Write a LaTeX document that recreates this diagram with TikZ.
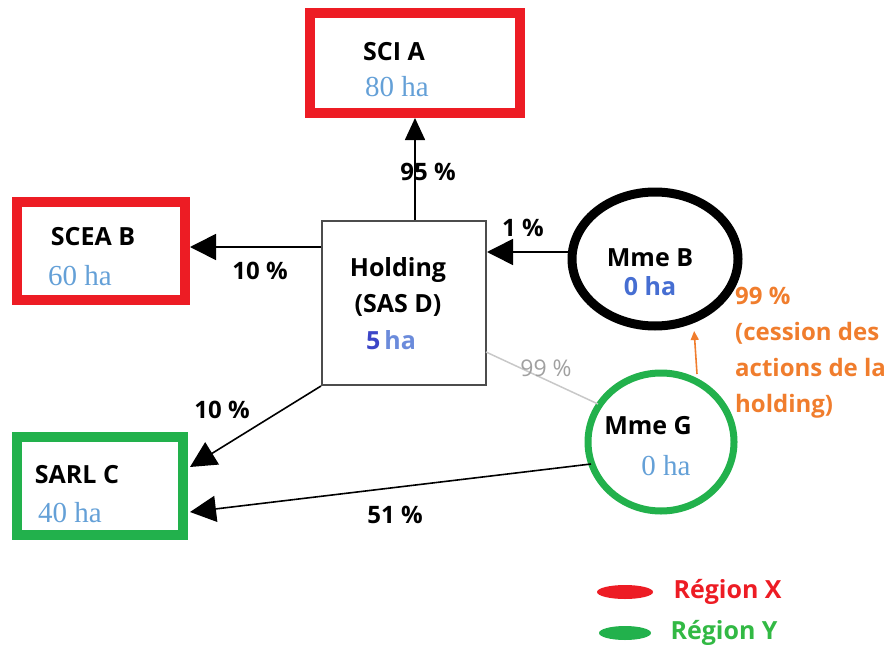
\documentclass[tikz,border=0pt]{standalone}
\usepackage{fontspec}
\setmainfont{Open Sans}
\newfontfamily\serifha{Liberation Serif}
\usetikzlibrary{arrows.meta,shapes.geometric}
\definecolor{rred}{RGB}{237,28,36}
\definecolor{ggreen}{RGB}{34,177,76}
\definecolor{lblue}{RGB}{100,160,215}
\definecolor{dblue}{RGB}{60,70,200}
\definecolor{mblue}{RGB}{70,110,210}
\definecolor{oorange}{RGB}{240,125,45}
\definecolor{ggray}{RGB}{200,200,200}
\tikzset{
  ttl/.style={font=\bfseries\fontsize{25}{30}\selectfont},
  pct/.style={font=\bfseries\fontsize{24}{29}\selectfont},
  haser/.style={font=\serifha\fontsize{29}{32}\selectfont, text=lblue},
  redbox/.style={draw=rred, line width=10pt},
  greenbox/.style={draw=ggreen, line width=10pt},
  conn/.style={line width=1.6pt, -{Triangle[length=26pt,width=26pt]}},
}
\begin{document}
\begin{tikzpicture}[x=1pt,y=-1pt]
\useasboundingbox (0,0) rectangle (893,650);
% boxes
\node[redbox, minimum width=210pt, minimum height=100pt] (A) at (415,63) {};
\node[ttl] at (394,52) {SCI A};
\node[haser] at (397,87) {80 ha};
\node[redbox, minimum width=168pt, minimum height=98pt] (B) at (101,251) {};
\node[ttl] at (93,237) {SCEA B};
\node[haser] at (80,276) {60 ha};
\node[greenbox, minimum width=166pt, minimum height=98pt] (C) at (100,486) {};
\node[ttl] at (77,475) {SARL C};
\node[haser] at (70,513) {40 ha};
\node[draw=black!70, line width=2pt, minimum width=164pt, minimum height=164pt] (D) at (404,303) {};
\node[ttl] at (398,270) {Holding};
\node[ttl] at (398,305) {(SAS D)};
\node[font=\bfseries\fontsize{25}{30}\selectfont] at (391,340) {\textcolor{dblue}{5}\,\textcolor{mblue!80}{ha}};
% ellipses
\node[ellipse, draw=black, line width=9pt, minimum width=166pt, minimum height=134pt] (MB) at (655,259) {};
\node[ttl] at (650,258) {Mme B};
\node[font=\bfseries\fontsize{25}{30}\selectfont, text=mblue] at (650,286) {0 ha};
\node[ellipse, draw=ggreen, line width=7pt, minimum width=146pt, minimum height=138pt] (MG) at (661,442) {};
\node[ttl] at (648,426) {Mme G};
\node[haser] at (666,466) {0 ha};
% connectors
\draw[line width=1.6pt, -{Triangle[length=22pt,width=20pt]}] (D.north -| A.south) -- (A.south);
\node[pct] at (428,172) {95 \%};
\draw[conn] (D.west |- B.east) ++(0,-4) coordinate (dw) (dw) -- (dw -| B.east);
\node[pct] at (260,271) {10 \%};
\coordinate (mbw) at (569,252);
\draw[conn] (mbw) -- (mbw -| D.east);
\node[pct] at (523,228) {1 \%};
\draw[conn] (D.south west) -- (190,467) coordinate (ce);
\node[pct] at (222,410) {10 \%};
\coordinate (mgw) at (591,464);
\draw[conn] (mgw) -- (190,512) coordinate (ce2);
\node[pct] at (395,515) {51 \%};
\coordinate (dg) at (486,352);
\coordinate (mgn) at (598,404);
\draw[ggray, line width=1.5pt] (dg) -- (mgn);
\node[font=\fontsize{23}{28}\selectfont, text=ggray!80!black] at (546,368) {99 \%};
\coordinate (mgt) at (697,374);
\coordinate (mbb) at (694,329);
\draw[oorange, line width=1.6pt, -{Triangle[length=9pt,width=8pt]}, shorten >=2pt] (mgt) -- (mbb);
\node[font=\bfseries\fontsize{24}{36}\selectfont, text=oorange, align=left, anchor=north west, inner sep=0pt] at (735,287) {99 \%\\(cession des\\actions de la\\holding)};
% legend
\node[ellipse, fill=rred, minimum width=56pt, minimum height=14pt, inner sep=0pt] (lx) at (625,592) {};
\node[font=\bfseries\fontsize{25}{30}\selectfont, text=rred, anchor=west] at (670,592) {Région X};
\node[ellipse, fill=ggreen, minimum width=52pt, minimum height=14pt, inner sep=0pt] (ly) at (625,633) {};
\node[font=\bfseries\fontsize{25}{30}\selectfont, text=ggreen!90!lime, anchor=west] at (667,633) {Région Y};
\end{tikzpicture}
\end{document}
